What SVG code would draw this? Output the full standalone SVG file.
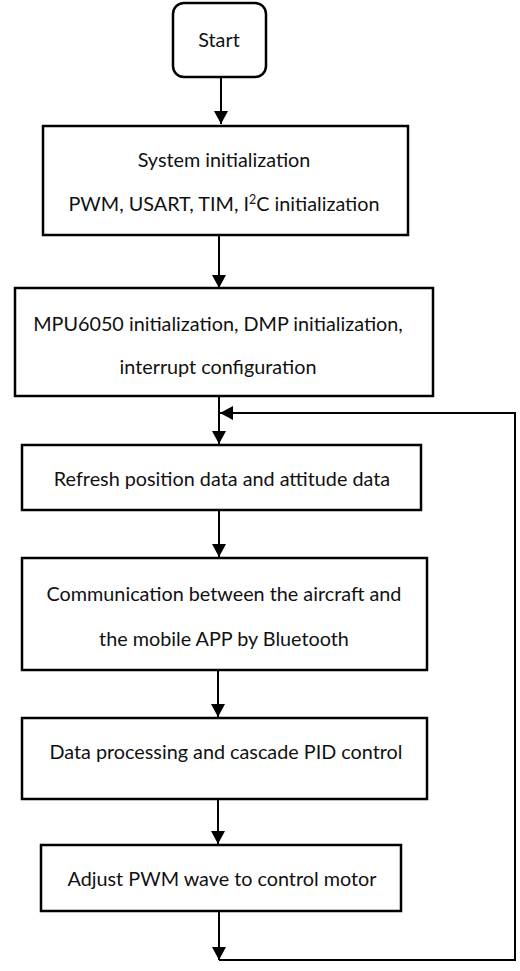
<svg xmlns="http://www.w3.org/2000/svg" width="520" height="971" viewBox="0 0 520 971">
<style>
.box{fill:#fff;stroke:#000;stroke-width:2.5}
.t{font-family:Lato,"Open Sans","Liberation Sans",sans-serif;font-size:19.8px;fill:#111;text-anchor:middle}
.c{fill:none;stroke:#000;stroke-width:2}
</style>
<defs>
<marker id="ah" markerWidth="14" markerHeight="14" refX="13" refY="7" orient="auto" markerUnits="userSpaceOnUse">
<path d="M0,0 L13,7 L0,14 Z" fill="#000"/>
</marker>
</defs>
<rect width="520" height="971" fill="#fff"/>
<g id="connectors">
<line class="c" x1="221" y1="77" x2="221" y2="124" marker-end="url(#ah)"/>
<line class="c" x1="219" y1="235" x2="219" y2="288" marker-end="url(#ah)"/>
<line class="c" x1="219" y1="396" x2="219" y2="444" marker-end="url(#ah)"/>
<line class="c" x1="219" y1="510" x2="219" y2="557" marker-end="url(#ah)"/>
<line class="c" x1="218" y1="670" x2="218" y2="717" marker-end="url(#ah)"/>
<line class="c" x1="218" y1="799" x2="218" y2="844" marker-end="url(#ah)"/>
<line class="c" x1="219" y1="911" x2="219" y2="960" marker-end="url(#ah)"/>
<polyline class="c" points="219,960 515,960 515,413 220,413" marker-end="url(#ah)"/>
</g>
<g id="start">
<rect class="box" x="173" y="3" width="93" height="74" rx="11"/>
<text class="t" x="219" y="47">Start</text>
</g>
<g id="sysinit">
<rect class="box" x="43" y="126" width="365" height="109"/>
<text class="t" x="224" y="167">System initialization</text>
<text class="t" x="224" y="211">PWM, USART, TIM, I<tspan dy="-7" font-size="12.5">2</tspan><tspan dy="7">C initialization</tspan></text>
</g>
<g id="mpuinit">
<rect class="box" x="15" y="288" width="418" height="108"/>
<text class="t" x="218" y="331">MPU6050 initialization, DMP initialization,</text>
<text class="t" x="218" y="374">interrupt configuration</text>
</g>
<g id="refresh">
<rect class="box" x="22" y="445" width="399" height="65"/>
<text class="t" x="222" y="486">Refresh position data and attitude data</text>
</g>
<g id="comm">
<rect class="box" x="22" y="558" width="405" height="112"/>
<text class="t" x="224" y="601">Communication between the aircraft and</text>
<text class="t" x="224" y="646">the mobile APP by Bluetooth</text>
</g>
<g id="pid">
<rect class="box" x="22" y="718" width="405" height="81"/>
<text class="t" x="226" y="759">Data processing and cascade PID control</text>
</g>
<g id="adjust">
<rect class="box" x="41" y="845" width="360" height="66"/>
<text class="t" x="222" y="886">Adjust PWM wave to control motor</text>
</g>
</svg>
